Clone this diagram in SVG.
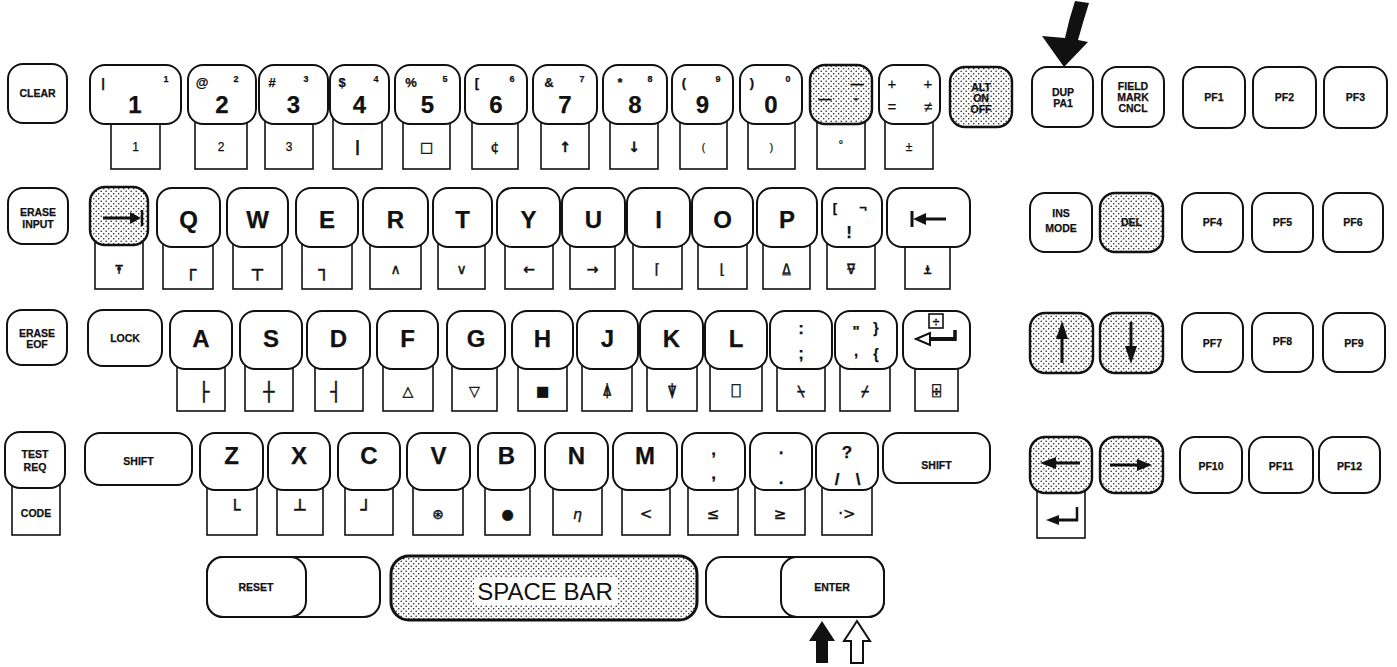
<svg xmlns="http://www.w3.org/2000/svg" width="1397" height="667" viewBox="0 0 1397 667">
<defs>
<pattern id="dots" width="5" height="5" patternUnits="userSpaceOnUse">
<rect width="5" height="5" fill="#fff"/>
<circle cx="1.2" cy="1.2" r="0.8" fill="#222"/>
<circle cx="3.7" cy="3.7" r="0.8" fill="#222"/>
</pattern>
<style>
.k{fill:#fff;stroke:#111;stroke-width:2}
.s{fill:url(#dots);stroke:#111;stroke-width:2.4}
.t{fill:#fff;stroke:#111;stroke-width:1.6}
text{fill:#111;stroke:#111;stroke-width:0.25;text-anchor:middle;font-family:"Liberation Sans",Arial,sans-serif}
.b{font-size:24px;font-weight:bold}
.l{font-size:10.5px;font-weight:bold}
.m{font-size:13px;font-weight:bold}
.sp{font-size:9px;font-weight:bold}
.tl{font-size:12px}
.a{font-family:"DejaVu Sans","DejaVu Sans Mono",sans-serif;font-size:14px;stroke-width:0.4}
.bx{font-family:"DejaVu Sans Mono","DejaVu Sans",monospace;font-size:18px;stroke-width:0.5}
.p{font-size:17px;font-weight:bold}
.ln{stroke:#111;stroke-width:3;fill:none}
.ah{fill:#111;stroke:none}
</style>
</defs>
<rect width="1397" height="667" fill="#fff"/>

<!-- Row 1 -->
<g id="key-clear"><rect class="k" x="8" y="64" width="59" height="59" rx="15"/><text class="l" x="37.5" y="97">CLEAR</text></g>
<g id="key-1"><rect class="t" x="111" y="118" width="49" height="51"/><rect class="k" x="90" y="65" width="91" height="59" rx="15"/><text class="m" x="103" y="87">|</text><text class="sp" x="166" y="82">1</text><text class="b" x="135" y="113">1</text><text class="tl" x="135.5" y="151">1</text></g>
<g id="key-2"><rect class="t" x="195" y="118" width="52" height="51"/><rect class="k" x="188" y="65" width="68" height="59" rx="15"/><text class="m" x="202" y="87">@</text><text class="sp" x="236" y="82">2</text><text class="b" x="222" y="113">2</text><text class="tl" x="221" y="151">2</text></g>
<g id="key-3"><rect class="t" x="265" y="118" width="48" height="51"/><rect class="k" x="259" y="65" width="69" height="59" rx="15"/><text class="m" x="272" y="87">#</text><text class="sp" x="306" y="82">3</text><text class="b" x="293.5" y="113">3</text><text class="tl" x="289" y="151">3</text></g>
<g id="key-4"><rect class="t" x="333" y="118" width="49" height="51"/><rect class="k" x="330" y="65" width="59" height="59" rx="15"/><text class="m" x="342" y="87">$</text><text class="sp" x="376" y="82">4</text><text class="b" x="359.5" y="113">4</text><text class="m" x="357.5" y="152" style="font-size:16px">|</text></g>
<g id="key-5"><rect class="t" x="403" y="118" width="47" height="51"/><rect class="k" x="395" y="65" width="65" height="59" rx="15"/><text class="m" x="411" y="87">%</text><text class="sp" x="445" y="82">5</text><text class="b" x="427.5" y="113">5</text><text class="a" x="426.5" y="152">□</text></g>
<g id="key-6"><rect class="t" x="472" y="118" width="46" height="51"/><rect class="k" x="465" y="65" width="62" height="59" rx="15"/><text class="m" x="477" y="87">[</text><text class="sp" x="512" y="82">6</text><text class="b" x="496" y="113">6</text><text class="a" x="495" y="152">¢</text></g>
<g id="key-7"><rect class="t" x="541" y="118" width="48" height="51"/><rect class="k" x="533" y="65" width="64" height="59" rx="15"/><text class="m" x="549" y="87">&amp;</text><text class="sp" x="582" y="82">7</text><text class="b" x="565" y="113">7</text><text class="a" x="565" y="152" style="font-weight:bold">↑</text></g>
<g id="key-8"><rect class="t" x="610" y="118" width="48" height="51"/><rect class="k" x="603" y="65" width="64" height="59" rx="15"/><text class="m" x="620" y="87">*</text><text class="sp" x="650" y="82">8</text><text class="b" x="635" y="113">8</text><text class="a" x="634" y="152" style="font-weight:bold">↓</text></g>
<g id="key-9"><rect class="t" x="680" y="118" width="47" height="51"/><rect class="k" x="672" y="65" width="61" height="59" rx="15"/><text class="m" x="684" y="87">(</text><text class="sp" x="718" y="82">9</text><text class="b" x="702.5" y="113">9</text><text class="tl" x="703.5" y="151" style="font-size:10px">(</text></g>
<g id="key-0"><rect class="t" x="748" y="118" width="47" height="51"/><rect class="k" x="740" y="65" width="62" height="59" rx="15"/><text class="m" x="752" y="87">)</text><text class="sp" x="788" y="82">0</text><text class="b" x="771" y="113">0</text><text class="tl" x="771.5" y="151" style="font-size:10px">)</text></g>
<g id="key-minus"><rect class="t" x="817" y="118" width="48" height="51"/><rect class="s" x="810" y="65" width="62" height="59" rx="15"/><text class="m" x="857" y="88">—</text><text class="m" x="825" y="103">—</text><text class="m" x="856" y="103">-</text><text class="tl" x="841" y="149">°</text></g>
<g id="key-plus"><rect class="t" x="885" y="118" width="48" height="51"/><rect class="k" x="879" y="65" width="61" height="59" rx="15"/><text class="m" x="892" y="89" style="font-weight:normal;font-size:15px">+</text><text class="m" x="928" y="89" style="font-weight:normal;font-size:15px">+</text><text class="m" x="892" y="112" style="font-weight:normal;font-size:15px">=</text><text class="m" x="928" y="112" style="font-weight:normal;font-size:15px">≠</text><text class="tl" x="909" y="151">±</text></g>
<g id="key-alt"><rect class="s" x="950" y="67" width="62" height="60" rx="15"/><text class="l" x="981" y="91">ALT</text><text class="l" x="981" y="102">ON</text><text class="l" x="981" y="113">OFF</text></g>
<g id="key-dup"><rect class="k" x="1032" y="67" width="61" height="60" rx="15"/><text class="l" x="1063" y="96">DUP</text><text class="l" x="1063" y="107">PA1</text></g>
<g id="key-field"><rect class="k" x="1102" y="67" width="62" height="60" rx="15"/><text class="l" x="1133" y="90">FIELD</text><text class="l" x="1133" y="101">MARK</text><text class="l" x="1133" y="112">CNCL</text></g>
<g id="key-pf1"><rect class="k" x="1183" y="67" width="62" height="61" rx="15"/><text class="l" x="1214" y="101">PF1</text></g>
<g id="key-pf2"><rect class="k" x="1253" y="67" width="63" height="61" rx="15"/><text class="l" x="1284.5" y="101">PF2</text></g>
<g id="key-pf3"><rect class="k" x="1324" y="67" width="63" height="61" rx="15"/><text class="l" x="1355.5" y="101">PF3</text></g>

<!-- Row 2 -->
<g id="key-erase-input"><rect class="k" x="8" y="188" width="60" height="56" rx="15"/><text class="l" x="38" y="216">ERASE</text><text class="l" x="38" y="228">INPUT</text></g>
<g id="key-tab"><rect class="t" x="95" y="240" width="48" height="49"/><rect class="s" x="90" y="187" width="58" height="58" rx="15"/><line class="ln" x1="103" y1="218" x2="133" y2="218"/><polygon class="ah" points="130,212 141,218 130,224"/><line class="ln" x1="142" y1="210" x2="142" y2="226" style="stroke-width:2.5"/><text class="a" x="119" y="274">⍕</text></g>
<g id="key-q"><rect class="t" x="163" y="240" width="50" height="49"/><rect class="k" x="157" y="188" width="63" height="59" rx="15"/><text class="b" x="188.5" y="228">Q</text><text class="bx" x="191" y="276">┌</text></g>
<g id="key-w"><rect class="t" x="233" y="240" width="49" height="49"/><rect class="k" x="227" y="188" width="61" height="59" rx="15"/><text class="b" x="257.5" y="228">W</text><text class="bx" x="257.5" y="276">┬</text></g>
<g id="key-e"><rect class="t" x="302" y="240" width="50" height="49"/><rect class="k" x="296" y="188" width="62" height="59" rx="15"/><text class="b" x="327" y="228">E</text><text class="bx" x="324" y="276">┐</text></g>
<g id="key-r"><rect class="t" x="370" y="240" width="51" height="49"/><rect class="k" x="363" y="188" width="65" height="59" rx="15"/><text class="b" x="395.5" y="228">R</text><text class="a" x="395.5" y="274">∧</text></g>
<g id="key-t"><rect class="t" x="438" y="240" width="47" height="49"/><rect class="k" x="433" y="188" width="59" height="59" rx="15"/><text class="b" x="462.5" y="228">T</text><text class="a" x="461.5" y="274">∨</text></g>
<g id="key-y"><rect class="t" x="505" y="240" width="48" height="49"/><rect class="k" x="497" y="188" width="63" height="59" rx="15"/><text class="b" x="528.5" y="228">Y</text><text class="a" x="529" y="274" style="font-weight:bold">←</text></g>
<g id="key-u"><rect class="t" x="570" y="240" width="45" height="49"/><rect class="k" x="562" y="188" width="63" height="59" rx="15"/><text class="b" x="593.5" y="228">U</text><text class="a" x="592.5" y="274" style="font-weight:bold">→</text></g>
<g id="key-i"><rect class="t" x="633" y="240" width="49" height="49"/><rect class="k" x="627" y="188" width="63" height="59" rx="15"/><text class="b" x="658.5" y="228">I</text><text class="a" x="657.5" y="274">⌈</text></g>
<g id="key-o"><rect class="t" x="698" y="240" width="49" height="49"/><rect class="k" x="692" y="188" width="61" height="59" rx="15"/><text class="b" x="722.5" y="228">O</text><text class="a" x="722.5" y="274">⌊</text></g>
<g id="key-p"><rect class="t" x="763" y="240" width="47" height="49"/><rect class="k" x="757" y="188" width="60" height="59" rx="15"/><text class="b" x="787" y="228">P</text><text class="a" x="786.5" y="274">⍙</text></g>
<g id="key-bracket"><rect class="t" x="827" y="240" width="48" height="49"/><rect class="k" x="822" y="188" width="60" height="59" rx="15"/><text class="m" x="835" y="212">[</text><text class="m" x="863" y="212">¬</text><text class="p" x="849" y="238">!</text><text class="a" x="851" y="274">⍫</text></g>
<g id="key-backtab"><rect class="t" x="905" y="240" width="45" height="49"/><rect class="k" x="887" y="188" width="83" height="59" rx="15"/><line class="ln" x1="912" y1="211" x2="912" y2="227"/><polygon class="ah" points="913,219 926,213 926,225"/><line class="ln" x1="924" y1="219" x2="946" y2="219"/><text class="a" x="927.5" y="274">⍎</text></g>
<g id="key-ins"><rect class="k" x="1030" y="193" width="62" height="59" rx="15"/><text class="l" x="1061" y="217">INS</text><text class="l" x="1061" y="232">MODE</text></g>
<g id="key-del"><rect class="s" x="1100" y="193" width="63" height="59" rx="15"/><text class="l" x="1131.5" y="226">DEL</text></g>
<g id="key-pf4"><rect class="k" x="1182" y="193" width="61" height="59" rx="15"/><text class="l" x="1212.5" y="226">PF4</text></g>
<g id="key-pf5"><rect class="k" x="1252" y="193" width="61" height="59" rx="15"/><text class="l" x="1282.5" y="226">PF5</text></g>
<g id="key-pf6"><rect class="k" x="1323" y="193" width="60" height="59" rx="15"/><text class="l" x="1353" y="226">PF6</text></g>

<!-- Row 3 -->
<g id="key-erase-eof"><rect class="k" x="7" y="310" width="60" height="55" rx="15"/><text class="l" x="37" y="337">ERASE</text><text class="l" x="37" y="348">EOF</text></g>
<g id="key-lock"><rect class="k" x="88" y="310" width="74" height="56" rx="15"/><text class="l" x="125" y="342">LOCK</text></g>
<g id="key-a"><rect class="t" x="177" y="363" width="48" height="48"/><rect class="k" x="170" y="311" width="62" height="58" rx="15"/><text class="b" x="201" y="347">A</text><text class="bx" x="204" y="398">├</text></g>
<g id="key-s"><rect class="t" x="245" y="363" width="48" height="48"/><rect class="k" x="240" y="311" width="62" height="58" rx="15"/><text class="b" x="271" y="347">S</text><text class="bx" x="269" y="398">┼</text></g>
<g id="key-d"><rect class="t" x="315" y="363" width="48" height="48"/><rect class="k" x="307" y="311" width="63" height="58" rx="15"/><text class="b" x="338.5" y="347">D</text><text class="bx" x="336" y="398">┤</text></g>
<g id="key-f"><rect class="t" x="383" y="363" width="50" height="48"/><rect class="k" x="377" y="311" width="61" height="58" rx="15"/><text class="b" x="407.5" y="347">F</text><text class="a" x="408" y="396">△</text></g>
<g id="key-g"><rect class="t" x="452" y="363" width="45" height="48"/><rect class="k" x="447" y="311" width="58" height="58" rx="15"/><text class="b" x="476" y="347">G</text><text class="a" x="474.5" y="396">▽</text></g>
<g id="key-h"><rect class="t" x="518" y="363" width="49" height="48"/><rect class="k" x="512" y="311" width="61" height="58" rx="15"/><text class="b" x="542.5" y="347">H</text><text class="a" x="542.5" y="396">■</text></g>
<g id="key-j"><rect class="t" x="582" y="363" width="50" height="48"/><rect class="k" x="577" y="311" width="61" height="58" rx="15"/><text class="b" x="607.5" y="347">J</text><text class="a" x="607" y="396">⍋</text></g>
<g id="key-k"><rect class="t" x="647" y="363" width="50" height="48"/><rect class="k" x="640" y="311" width="63" height="58" rx="15"/><text class="b" x="671.5" y="347">K</text><text class="a" x="672" y="396">⍒</text></g>
<g id="key-l"><rect class="t" x="710" y="363" width="52" height="48"/><rect class="k" x="705" y="311" width="62" height="58" rx="15"/><text class="b" x="736" y="347">L</text><text class="a" x="736" y="396">⎕</text></g>
<g id="key-colon"><rect class="t" x="777" y="363" width="48" height="48"/><rect class="k" x="770" y="311" width="62" height="58" rx="15"/><text class="p" x="801" y="334">:</text><text class="p" x="801" y="359">;</text><text class="a" x="801" y="396">⍀</text></g>
<g id="key-quote"><rect class="t" x="840" y="363" width="50" height="48"/><rect class="k" x="835" y="311" width="62" height="58" rx="15"/><text class="m" x="856" y="336" style="font-size:15px">"</text><text class="m" x="876" y="333" style="font-size:14px">}</text><text class="m" x="856" y="356" style="font-size:15px">,</text><text class="m" x="876" y="359" style="font-size:14px">{</text><text class="a" x="865" y="396">⌿</text></g>
<g id="key-newline"><rect class="t" x="915" y="363" width="43" height="48"/><rect class="k" x="903" y="311" width="67" height="58" rx="15"/><rect x="929" y="314" width="14" height="14" fill="#fff" stroke="#111" stroke-width="1.6"/><text class="m" x="936" y="326" style="font-size:12px">÷</text><line class="ln" x1="929" y1="339" x2="955" y2="339" style="stroke-width:4"/><line class="ln" x1="955" y1="341" x2="955" y2="330" style="stroke-width:3.5"/><polygon points="916,339 930,333 930,345" fill="#fff" stroke="#111" stroke-width="2"/><text class="a" x="936.5" y="396">⌹</text></g>
<g id="key-up"><rect class="s" x="1030" y="313" width="63" height="60" rx="15"/><line class="ln" x1="1062" y1="335" x2="1062" y2="363"/><polygon class="ah" points="1056,339 1062,321 1068,339"/></g>
<g id="key-down"><rect class="s" x="1100" y="313" width="63" height="60" rx="15"/><line class="ln" x1="1131" y1="322" x2="1131" y2="350"/><polygon class="ah" points="1125,346 1131,364 1137,346"/></g>
<g id="key-pf7"><rect class="k" x="1182" y="313" width="61" height="59" rx="15"/><text class="l" x="1212.5" y="347">PF7</text></g>
<g id="key-pf8"><rect class="k" x="1252" y="313" width="61" height="59" rx="15"/><text class="l" x="1282.5" y="345">PF8</text></g>
<g id="key-pf9"><rect class="k" x="1323" y="313" width="62" height="59" rx="15"/><text class="l" x="1354" y="347">PF9</text></g>

<!-- Row 4 -->
<g id="key-test-req"><rect class="t" x="12" y="482" width="48" height="53"/><rect class="k" x="5" y="432" width="60" height="56" rx="15"/><text class="l" x="35" y="458">TEST</text><text class="l" x="35" y="471">REQ</text><text class="l" x="36" y="517">CODE</text></g>
<g id="key-shift-left"><rect class="k" x="85" y="433" width="107" height="52" rx="15"/><text class="l" x="138.5" y="465">SHIFT</text></g>
<g id="key-z"><rect class="t" x="207" y="483" width="50" height="52"/><rect class="k" x="200" y="433" width="63" height="57" rx="15"/><text class="b" x="231.5" y="464">Z</text><text class="bx" x="235" y="516">└</text></g>
<g id="key-x"><rect class="t" x="277" y="483" width="46" height="52"/><rect class="k" x="268" y="433" width="62" height="57" rx="15"/><text class="b" x="299" y="464">X</text><text class="bx" x="300" y="516">┴</text></g>
<g id="key-c"><rect class="t" x="345" y="483" width="48" height="52"/><rect class="k" x="338" y="433" width="62" height="57" rx="15"/><text class="b" x="369" y="464">C</text><text class="bx" x="366" y="516">┘</text></g>
<g id="key-v"><rect class="t" x="413" y="483" width="50" height="52"/><rect class="k" x="407" y="433" width="63" height="57" rx="15"/><text class="b" x="438.5" y="464">V</text><text class="a" x="438" y="519">⊛</text></g>
<g id="key-b"><rect class="t" x="485" y="483" width="45" height="52"/><rect class="k" x="478" y="433" width="57" height="57" rx="15"/><text class="b" x="506.5" y="464">B</text><text class="a" x="507.5" y="519">●</text></g>
<g id="key-n"><rect class="t" x="553" y="483" width="49" height="52"/><rect class="k" x="545" y="433" width="63" height="57" rx="15"/><text class="b" x="576.5" y="464">N</text><text class="a" x="577.5" y="519" style="font-style:italic">η</text></g>
<g id="key-m"><rect class="t" x="622" y="483" width="48" height="52"/><rect class="k" x="613" y="433" width="64" height="57" rx="15"/><text class="b" x="645" y="464">M</text><text class="a" x="646" y="519" style="font-size:15px">&lt;</text></g>
<g id="key-comma"><rect class="t" x="688" y="483" width="50" height="52"/><rect class="k" x="682" y="433" width="63" height="57" rx="15"/><text class="p" x="713.5" y="455">,</text><text class="p" x="713.5" y="479">,</text><text class="a" x="713" y="519" style="font-size:15px">≤</text></g>
<g id="key-period"><rect class="t" x="755" y="483" width="50" height="52"/><rect class="k" x="750" y="433" width="62" height="57" rx="15"/><text class="p" x="781" y="454">.</text><text class="p" x="781" y="484">.</text><text class="a" x="780" y="519" style="font-size:15px">≥</text></g>
<g id="key-question"><rect class="t" x="822" y="483" width="50" height="52"/><rect class="k" x="816" y="433" width="62" height="57" rx="15"/><text class="p" x="847" y="458">?</text><text class="p" x="837" y="485">/</text><text class="p" x="858" y="485">\</text><text class="a" x="847" y="519" style="font-size:15px">·&gt;</text></g>
<g id="key-shift-right"><rect class="k" x="883" y="433" width="107" height="50" rx="15"/><text class="l" x="936.5" y="469">SHIFT</text></g>
<g id="key-left"><rect class="t" x="1037" y="487" width="48" height="51"/><rect class="s" x="1030" y="437" width="62" height="56" rx="15"/><line class="ln" x1="1052" y1="463" x2="1080" y2="463"/><polygon class="ah" points="1040,463 1056,457 1056,469"/><line class="ln" x1="1077" y1="507" x2="1077" y2="521" style="stroke-width:2.5"/><line class="ln" x1="1078" y1="520" x2="1056" y2="520"/><polygon class="ah" points="1046,520 1059,515 1059,525"/></g>
<g id="key-right"><rect class="s" x="1100" y="437" width="63" height="56" rx="15"/><line class="ln" x1="1110" y1="465" x2="1140" y2="465"/><polygon class="ah" points="1152,465 1137,459 1137,471"/></g>
<g id="key-pf10"><rect class="k" x="1180" y="437" width="62" height="56" rx="15"/><text class="l" x="1211" y="470">PF10</text></g>
<g id="key-pf11"><rect class="k" x="1249" y="437" width="64" height="56" rx="15"/><text class="l" x="1281" y="470">PF11</text></g>
<g id="key-pf12"><rect class="k" x="1319" y="437" width="61" height="56" rx="15"/><text class="l" x="1349.5" y="470">PF12</text></g>

<!-- Row 5 -->
<g id="key-reset"><rect class="k" x="207" y="557" width="173" height="60" rx="16"/><rect class="k" x="207" y="557" width="99" height="60" rx="16"/><text class="l" x="256" y="591">RESET</text></g>
<g id="key-space"><rect class="s" x="391" y="556" width="306" height="64" rx="18" style="stroke-width:3"/><rect x="474" y="578" width="144" height="27" fill="#fff"/><text x="545" y="600" style="font-size:24px;stroke-width:0">SPACE BAR</text></g>
<g id="key-enter"><rect class="k" x="706" y="557" width="178" height="60" rx="16"/><rect class="k" x="781" y="557" width="103" height="60" rx="16"/><text class="l" x="832" y="591">ENTER</text></g>

<!-- pointer arrows -->
<g id="connectors">
<path d="M1075,1 L1089,3 Q1083,22 1078,40 L1088,42 L1064,67 L1042,36 L1065,38 Q1069,19 1075,1 Z" fill="#111"/>
<polygon points="822,621 835,641 828,641 828,663 816,663 816,641 809,641" fill="#111"/>
<polygon points="857,621 870,641 863,641 863,663 851,663 851,641 844,641" fill="#fff" stroke="#111" stroke-width="2"/>
</g>
</svg>
